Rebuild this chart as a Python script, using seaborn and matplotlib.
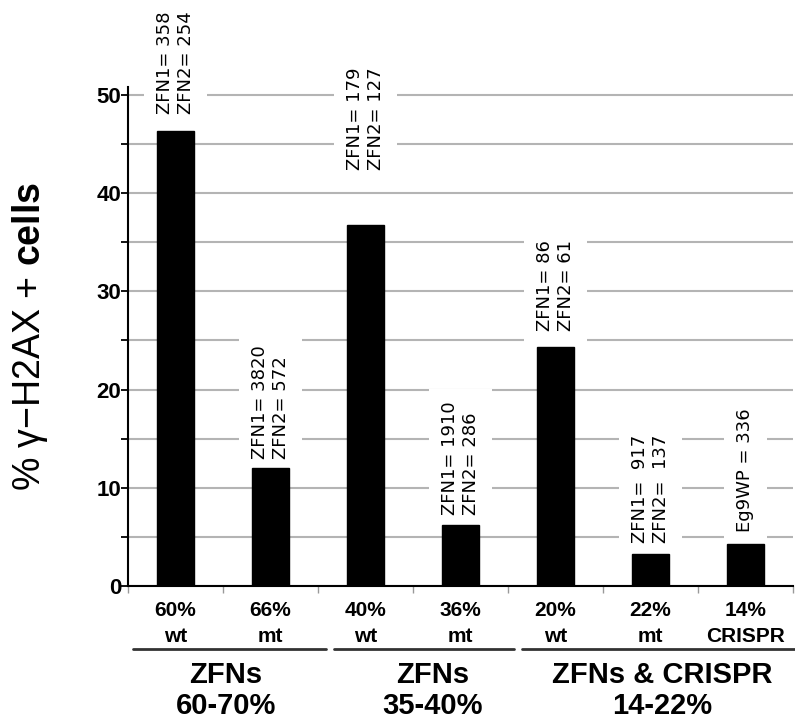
import numpy as np
import pandas as pd
import seaborn as sns
import matplotlib
matplotlib.use("Agg")
import matplotlib.pyplot as plt
from matplotlib.ticker import MultipleLocator
import matplotlib.transforms as mtransforms

# values
percent = ["60%", "66%", "40%", "36%", "20%", "22%", "14%"]
kind = ["wt", "mt", "wt", "mt", "wt", "mt", "CRISPR"]
values = [46.3, 12.0, 36.8, 6.2, 24.3, 3.3, 4.3]
counts = ["ZFN1= 358\nZFN2= 254",
          "ZFN1= 3820\nZFN2= 572",
          "ZFN1= 179\nZFN2= 127",
          "ZFN1= 1910\nZFN2= 286",
          "ZFN1= 86\nZFN2= 61",
          "ZFN1=  917\nZFN2=  137",
          "Eg9WP = 336"]
groups = ["ZFNs\n60-70%", "ZFNs\n35-40%", "ZFNs & CRISPR\n14-22%"]

# layout only
label_gap = [17, 9, 55, 10, 16, 11, 12]          # px above bar
group_x = [0.53, 2.71, 5.12]
group_lines = [(-0.45, 1.58), (1.67, 3.56), (3.65, 6.55)]

sns.set_style("white")
plt.rcParams["font.family"] = ["Liberation Sans", "DejaVu Sans"]
plt.rcParams["mathtext.fontset"] = "custom"
plt.rcParams["mathtext.rm"] = "Liberation Sans"
plt.rcParams["mathtext.it"] = "Liberation Sans:italic"
plt.rcParams["mathtext.bf"] = "Liberation Sans:bold"
plt.rcParams["text.color"] = "black"
plt.rcParams["xtick.color"] = "black"
plt.rcParams["ytick.color"] = "black"

df = pd.DataFrame({"cat": [p + "\n" + k for p, k in zip(percent, kind)],
                   "val": values})

fig = plt.figure(figsize=(7.95, 7.22), dpi=100)
ax = fig.add_axes([128 / 795, 136 / 722, 665 / 795, 499 / 722])

sns.barplot(data=df, x="cat", y="val", color="black", saturation=1,
            width=0.39, edgecolor="black", ax=ax, zorder=3)

ax.set_xlim(-0.5, 6.5)
ax.set_ylim(0, 50.8)

# grid every 5
ax.yaxis.set_major_locator(MultipleLocator(10))
ax.yaxis.set_minor_locator(MultipleLocator(5))
ax.yaxis.grid(True, which="both", color="#b4b4b4", lw=1.5, zorder=0)
ax.set_axisbelow(True)

for s in ["top", "right"]:
    ax.spines[s].set_visible(False)
for s in ["left", "bottom"]:
    ax.spines[s].set_color("black")
    ax.spines[s].set_linewidth(1.5)

ax.tick_params(axis="y", which="both", left=True, length=5, width=1.3,
               color="black", pad=0)
ax.tick_params(axis="y", labelsize=16)
for t in ax.get_yticklabels():
    t.set_fontweight("bold")

ax.set_xticks(range(len(values)))
ax.set_xticklabels(df["cat"], fontsize=15, fontweight="bold", linespacing=1.5)
ax.set_xticks(np.arange(-0.5, 7, 1), minor=True)
ax.tick_params(axis="x", which="major", bottom=False, pad=7)
ax.tick_params(axis="x", which="minor", bottom=True, length=5, width=1,
               color="#999999")

ax.set_xlabel("")
ax.set_ylabel("")

# n per bar
for i, (v, txt) in enumerate(zip(values, counts)):
    ax.annotate(txt, xy=(i, v), xytext=(0, label_gap[i]),
                textcoords="offset pixels", rotation=90, ha="center",
                va="bottom", multialignment="left", fontsize=13,
                family="DejaVu Sans", zorder=2,
                bbox=dict(facecolor="white", edgecolor="none", pad=9))

# group underlines and labels
trans = mtransforms.blended_transform_factory(ax.transData, ax.transAxes)
for (x0, x1), gx, g in zip(group_lines, group_x, groups):
    ax.plot([x0, x1], [-0.126, -0.126], color="#333333", lw=2,
            transform=trans, clip_on=False)
    ax.text(gx, -0.2094, g, transform=trans, ha="center", va="center",
            fontsize=21, fontweight="bold", linespacing=1.1)

fig.text(30 / 795, 1 - 336 / 722, "% γ−H2AX + $\\mathbf{cells}$",
         rotation=90, ha="center", va="center", fontsize=27)

fig.savefig("out.png", dpi=100)
